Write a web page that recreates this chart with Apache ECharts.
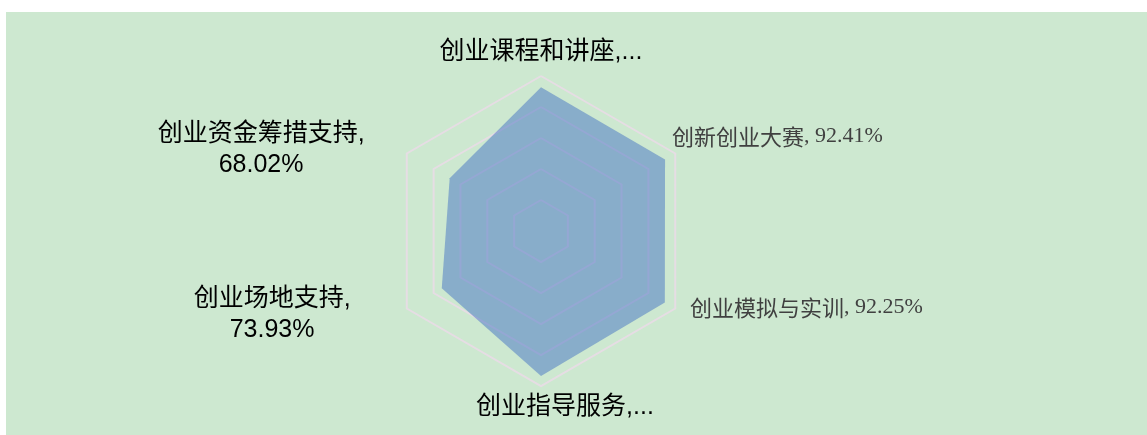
<!DOCTYPE html>
<html>
<head>
<meta charset="utf-8">
<script src="https://cdn.jsdelivr.net/npm/echarts@6.0.0/dist/echarts.min.js"></script>
<style>
    html, body { margin: 0; padding: 0; background: #fff; }
    #radar { position: absolute; left: 6px; top: 12px; width: 1141px; height: 423px; }
</style>
</head>
<body>
<div id="radar"></div>
<script>

// clockwise from the top, as in the reference
const names = ['创业课程和讲座', '创新创业大赛', '创业模拟与实训', '创业指导服务', '创业场地支持', '创业资金筹措支持'];
const rates = [92.73, 92.41, 92.25, 93.48, 73.93, 68.02];
const maxRate = 100;

// echarts puts indicators counter-clockwise from the top, so flip the rest
const order = [0, 5, 4, 3, 2, 1];

const sans = '"Liberation Sans", "Noto Sans CJK SC", sans-serif';
const cjk = '"Noto Sans CJK SC", sans-serif';
const serif = '"Liberation Serif", serif';

function pct(v){
    return v.toFixed(2) + '%';
}

function nameText(name){
    const i = names.indexOf(name);
    const v = pct(rates[i]);
    if (i === 0) return '{top|' + name + ',...}';
    if (i === 1) return '{rtC|' + name + '}{rtN|, ' + v + '}';
    if (i === 2) return '{rbC|' + name + '}{rbN|, ' + v + '}';
    if (i === 3) return '{bot|' + name + ',...}';
    if (i === 4) return '{lb1|' + name + ',}\n{lb2|' + v + '}';
    return '{lt1|' + name + ',}\n{lt2|' + v + '}';
}

const black = { fontSize: 25, lineHeight: 25, color: '#000', fontFamily: sans };
const gray = { fontSize: 22, lineHeight: 24, color: '#404040', fontFamily: cjk };
const grayNum = { fontSize: 22, lineHeight: 24, color: '#404040', fontFamily: serif };

const option = {
    backgroundColor: '#cde8d0',
    animation: false,
    radar: {
        center: [535, 219],
        radius: 155,
        startAngle: 90,
        splitNumber: 5,
        shape: 'polygon',
        nameGap: 10,
        indicator: order.map(i => ({ name: names[i], max: maxRate, min: 0 })),
        axisName: {
            formatter: nameText,
            rich: {
                top: Object.assign({}, black, { padding: [0, 0, 3, 0] }),
                bot: Object.assign({}, black, { padding: [-2, 0, 0, 48] }),
                rtC: Object.assign({}, gray, { padding: [0, 0, 24, -12] }),
                rtN: Object.assign({}, grayNum, { padding: [0, 0, 24, 0] }),
                rbC: Object.assign({}, gray, { padding: [0, 0, 12, 6] }),
                rbN: Object.assign({}, grayNum, { padding: [0, 0, 12, 0] }),
                lt1: Object.assign({}, black, { lineHeight: 34, width: 220, align: 'center', padding: [6, 27, 0, 0] }),
                lt2: Object.assign({}, black, { lineHeight: 34, width: 220, align: 'center', padding: [0, 27, 0, 0] }),
                lb1: Object.assign({}, black, { lineHeight: 33, width: 220, align: 'center', padding: [4, 16, 0, 0] }),
                lb2: Object.assign({}, black, { lineHeight: 33, width: 220, align: 'center', padding: [0, 16, 0, 0] })
            }
        },
        axisLine: { show: false },
        axisTick: { show: false },
        axisLabel: { show: false },
        splitArea: { show: false },
        splitLine: {
            lineStyle: { color: '#e6dde4', width: 2 }
        }
    },
    series: [{
        type: 'radar',
        symbol: 'none',
        lineStyle: { width: 0 },
        areaStyle: { color: '#4472c4', opacity: 0.5 },
        data: [{ value: order.map(i => rates[i]) }]
    }]
};

const chart = echarts.init(document.getElementById('radar'));
chart.setOption(option);
window.onresize = () => { chart.resize(); };

</script>
</body>
</html>
